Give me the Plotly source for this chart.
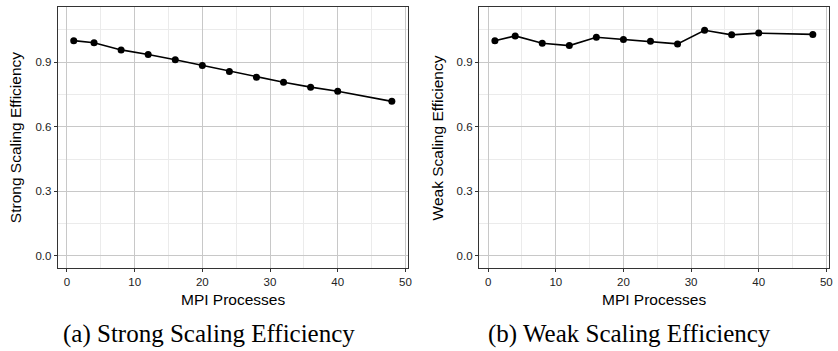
import plotly.graph_objects as go

# ---- data ----
mpi_processes = [1, 4, 8, 12, 16, 20, 24, 28, 32, 36, 40, 48]
strong_efficiency = [1.000, 0.990, 0.957, 0.936, 0.911, 0.885, 0.857, 0.830, 0.807, 0.784, 0.765, 0.718]
weak_efficiency = [1.000, 1.022, 0.988, 0.977, 1.016, 1.005, 0.997, 0.985, 1.048, 1.027, 1.035, 1.029]
x_ticks = [0, 10, 20, 30, 40, 50]
y_ticks = [0.0, 0.3, 0.6, 0.9]
y_titles = ["Strong Scaling Efficiency", "Weak Scaling Efficiency"]
x_title = "MPI Processes"
captions = ["(a) Strong Scaling Efficiency", "(b) Weak Scaling Efficiency"]

W, H = 838, 351
px = lambda v: v / W
py = lambda v: 1 - v / H

fig = go.Figure()

for i, ys in enumerate([strong_efficiency, weak_efficiency]):
    sfx = "" if i == 0 else "2"
    fig.add_trace(go.Scatter(
        x=mpi_processes, y=ys, mode="lines+markers",
        line=dict(color="black", width=1.6),
        marker=dict(color="black", size=7),
        xaxis="x" + sfx, yaxis="y" + sfx, showlegend=False,
    ))

axis_common = dict(
    showline=True, mirror=True, linecolor="#333333", linewidth=1.2,
    ticks="outside", ticklen=3, tickcolor="#333333", tickwidth=1,
    showgrid=True, gridcolor="#c8c8c8", gridwidth=1,
    zeroline=False,
    tickfont=dict(family="Liberation Sans, Arial, sans-serif", size=11.5, color="#222222"),
)

xdomains = [[px(58.1), px(409.7)], [px(481.3), px(832.7)]]
ydomain = [py(267.7), py(7.3)]

layout = dict(
    width=W, height=H,
    margin=dict(l=0, r=0, t=0, b=0),
    paper_bgcolor="white", plot_bgcolor="white",
    showlegend=False,
)
for i in range(2):
    sfx = "" if i == 0 else "2"
    layout["xaxis" + sfx] = dict(
        axis_common, domain=xdomains[i], range=[-1.35, 50.35],
        tickmode="array", tickvals=x_ticks, ticktext=[str(t) for t in x_ticks],
        minor=dict(dtick=5, tick0=0, showgrid=True, gridcolor="#ebebeb", gridwidth=1, ticks=""),
        anchor="y" + sfx,
    )
    layout["yaxis" + sfx] = dict(
        axis_common, domain=ydomain, range=[-0.055, 1.155],
        tickmode="array", tickvals=y_ticks, ticktext=[f"{t:.1f}" for t in y_ticks],
        minor=dict(dtick=0.15, tick0=0, showgrid=True, gridcolor="#ebebeb", gridwidth=1, ticks=""),
        anchor="x" + sfx,
    )
fig.update_layout(**layout)

title_font = dict(family="Liberation Sans, Arial, sans-serif", size=15.5, color="black")
ytitle_x = [15.7, 440.0]
xtitle_cx = [233.9, 657.0]
cap_cx = [209.7, 632.5]
for i in range(2):
    fig.add_annotation(text=y_titles[i], xref="paper", yref="paper",
                       x=px(ytitle_x[i]), y=py(137.5), textangle=-90,
                       showarrow=False, xanchor="center", yanchor="middle", font=title_font)
    fig.add_annotation(text=x_title, xref="paper", yref="paper",
                       x=px(xtitle_cx[i]), y=py(299), showarrow=False,
                       xanchor="center", yanchor="middle", font=title_font)
    fig.add_annotation(text=captions[i], xref="paper", yref="paper",
                       x=px(cap_cx[i]), y=py(334), showarrow=False,
                       xanchor="center", yanchor="middle",
                       font=dict(family="Liberation Serif, Times New Roman, serif", size=25, color="black"))

fig.write_html("out.html")
